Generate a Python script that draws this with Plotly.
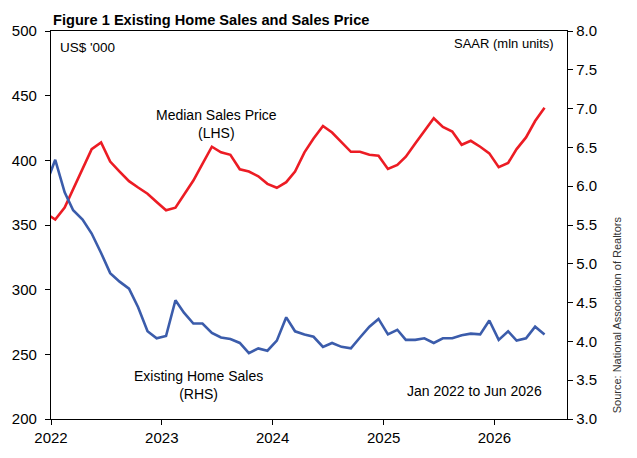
import pandas as pd
import plotly.graph_objects as go

# monthly observations, plotted mid-month (Dec 2021 .. Jun 2026)
months = pd.date_range("2021-12-01", "2026-06-01", freq="MS") + pd.Timedelta(days=14)

# median sales price, US$ '000 (LHS)
price = [
    359,
    354.2, 363.5, 378, 393.5, 408.7, 413.8, 399, 391.3, 383.9, 379, 374.2, 367.8,
    361.4, 363.4, 373, 384.4, 397.2, 410.5, 406.2, 404.3, 393.1, 391.3, 387.7, 381.8,
    378.8, 383.1, 391.3, 406.2, 416.9, 426.6, 421.5, 413.8, 406.6, 406.6, 404.3, 403.6,
    393.3, 396.4, 402.8, 413.1, 422.7, 432.5, 425.8, 422.3, 412, 415.1, 410.5, 405.4,
    394.7, 398, 408.7, 417.7, 430.4, 440.7,
]

# existing home sales, SAAR mln units (RHS)
sales = [
    6.02,
    6.34, 5.92, 5.69, 5.57, 5.39, 5.14, 4.88, 4.77, 4.68, 4.44, 4.13, 4.04,
    4.07, 4.53, 4.37, 4.23, 4.23, 4.11, 4.05, 4.03, 3.98, 3.85, 3.91, 3.88,
    4.01, 4.31, 4.13, 4.09, 4.06, 3.93, 3.98, 3.93, 3.91, 4.05, 4.19, 4.29,
    4.09, 4.15, 4.02, 4.02, 4.04, 3.98, 4.04, 4.04, 4.08, 4.10, 4.09, 4.27,
    4.02, 4.13, 4.01, 4.04, 4.19, 4.09,
]

FONT = "Arial, Liberation Sans, sans-serif"
RED = "#EC1C24"
BLUE = "#3B5CAB"

fig = go.Figure()

fig.add_trace(go.Scatter(
    x=months, y=price, mode="lines", name="Median Sales Price",
    line=dict(color=RED, width=2.6), yaxis="y",
))
fig.add_trace(go.Scatter(
    x=months, y=sales, mode="lines", name="Existing Home Sales",
    line=dict(color=BLUE, width=2.6), yaxis="y2",
))

axis_common = dict(
    showgrid=False, zeroline=False, showline=True, linecolor="black", linewidth=1.3,
    ticks="outside", ticklen=5, tickcolor="black", tickwidth=1.3,
    tickfont=dict(family=FONT, size=15, color="black"),
)

fig.update_layout(
    width=637, height=458,
    margin=dict(l=48, r=70, t=31, b=36),
    paper_bgcolor="white", plot_bgcolor="white",
    showlegend=False,
    font=dict(family=FONT, color="black"),
    title=dict(
        text="<b>Figure 1 Existing Home Sales and Sales Price</b>",
        font=dict(family=FONT, size=14.6, color="black"),
        xref="paper", x=0.004, xanchor="left",
        yref="container", y=0.956, yanchor="middle",
    ),
    xaxis=dict(
        axis_common, type="date", range=["2022-01-01", "2026-08-28"],
        tick0="2022-01-01", dtick="M12", tickformat="%Y", mirror=True,
    ),
    yaxis=dict(axis_common, range=[200, 500], dtick=50, ticklabelstandoff=5),
    yaxis2=dict(
        axis_common, range=[3, 8], dtick=0.5, tickformat=".1f",
        overlaying="y", side="right",
    ),
)

ann_font = dict(family=FONT, size=14, color="black")
fig.add_annotation(text="US$ '000", xref="paper", yref="paper", x=0.0135, y=0.9565,
                   xanchor="left", yanchor="middle", showarrow=False,
                   font=dict(family=FONT, size=13.5, color="black"))
fig.add_annotation(text="SAAR (mln units)", xref="paper", yref="paper", x=0.9788, y=0.969,
                   xanchor="right", yanchor="middle", showarrow=False,
                   font=dict(family=FONT, size=13, color="black"))
fig.add_annotation(text="Median Sales Price<br>(LHS)", xref="paper", yref="paper",
                   x=0.3198, y=0.761, xanchor="center", yanchor="middle",
                   showarrow=False, font=ann_font)
fig.add_annotation(text="Existing Home Sales<br>(RHS)", xref="paper", yref="paper",
                   x=0.285, y=0.087, xanchor="center", yanchor="middle",
                   showarrow=False, font=ann_font)
fig.add_annotation(text="Jan 2022 to Jun 2026", xref="paper", yref="paper",
                   x=0.9557, y=0.0716, xanchor="right", yanchor="middle",
                   showarrow=False, font=ann_font)
fig.add_annotation(text="Source: National Association of Realtors", xref="paper", yref="paper",
                   x=1.096, y=0.2686, xanchor="center", yanchor="middle", textangle=-90,
                   showarrow=False, font=dict(family=FONT, size=11, color="#333333"))

# drop the page's default body margin so the figure sits at the window origin
fig.write_html(
    "out.html",
    config={"displayModeBar": False},
    post_script="document.body.style.margin='0';",
)
